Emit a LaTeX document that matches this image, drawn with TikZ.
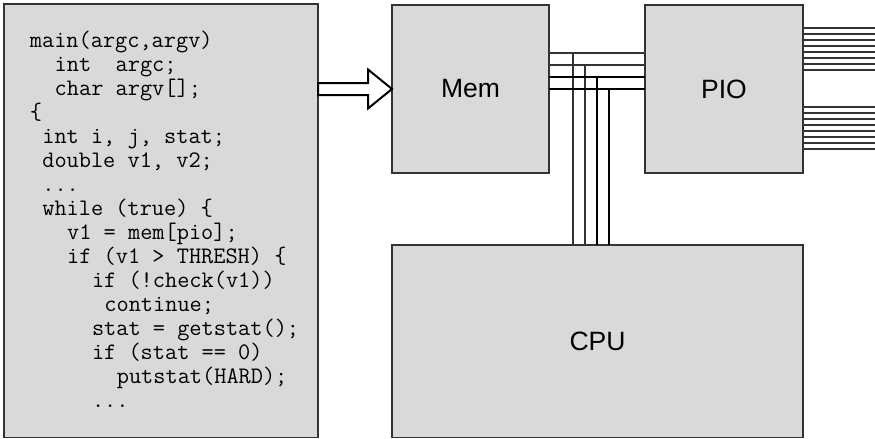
\documentclass[tikz,border=0pt]{standalone}
\usepackage{fontspec}
\setmainfont{Liberation Sans}
\usetikzlibrary{calc}

\tikzset{
    block/.style = {draw = black!80, fill = black!15, line width = 0.6pt, inner sep = 0pt, outer sep = 0pt, anchor = north west, font = \fontsize{13.25}{16}\selectfont},
    codeline/.style = {anchor = base west, inner sep = 0pt, font = \ttfamily\fontsize{11.83}{14}\selectfont},
    hollow arrow/.style = {draw = black, fill = white, line width = 1pt, line join = miter},
    busthin/.style = {draw = black!80, line width = 0.6pt},
    busthick/.style = {draw = black, line width = 1pt},
    pioline/.style = {draw = black!80, line width = 0.55pt}
}

\begin{document}
\begin{tikzpicture}[x = 0.5pt, y = -0.5pt]
    \useasboundingbox (0,0) rectangle (875,439);
    \node[block, minimum width = 157pt, minimum height = 216.75pt] (CODE) at (4,4) {};
    \node[block, minimum width = 78.5pt, minimum height = 84pt] (MEM) at (392,5) {Mem};
    \node[block, minimum width = 79pt, minimum height = 84pt] (PIO) at (645,5) {PIO};
    \node[block, minimum width = 205.5pt, minimum height = 96.25pt] (CPU) at (392,245) {CPU};
    \foreach \ind/\txt [count = \k from 0] in {
        0/{main(argc,argv)},
        2/{int\ \ argc;},
        2/{char argv[];},
        0/{\{},
        1/{int i, j, stat;},
        1/{double v1, v2;},
        1/{...},
        1/{while (true) \{},
        3/{v1 = mem[pio];},
        3/{if (v1 > THRESH) \{},
        5/{if (!check(v1))},
        6/{continue;},
        5/{stat = getstat();},
        5/{if (stat == 0)},
        7/{putstat(HARD);},
        5/{...}}
        \node[codeline] (LINE\k) at ($(CODE.north west) + ({25.5 + 12.42*\ind}, {43.3 + 24*\k})$) {\txt};
    \draw[hollow arrow] (CODE.east |- MEM.west) -- ++(0,-6) -- ++(50,0) -- ++(0,-13.5) -- (MEM.west)
        -- ++(-24,19.5) -- ++(0,-13.5) -- ++(-50,0) -- cycle;
    \foreach \i/\sty in {0/busthin, 1/busthin, 2/busthick, 3/busthick} {
        \coordinate (B\i) at ($(MEM.east) + (0, {-36 + 12*\i})$);
        \coordinate (V\i) at ($(B\i) + ({24 + 12*\i}, 0)$);
        \draw[\sty] (B\i) -- (B\i -| PIO.west);
        \draw[\sty] (V\i) -- (V\i |- CPU.north);
    }
    \foreach \k in {0,...,7} {
        \draw[pioline] ($(PIO.east) + (0, {-61 + 6*\k})$) -- ++(72,0);
        \draw[pioline] ($(PIO.east) + (0, {18 + 6*\k})$) -- ++(72,0);
    }
\end{tikzpicture}
\end{document}
